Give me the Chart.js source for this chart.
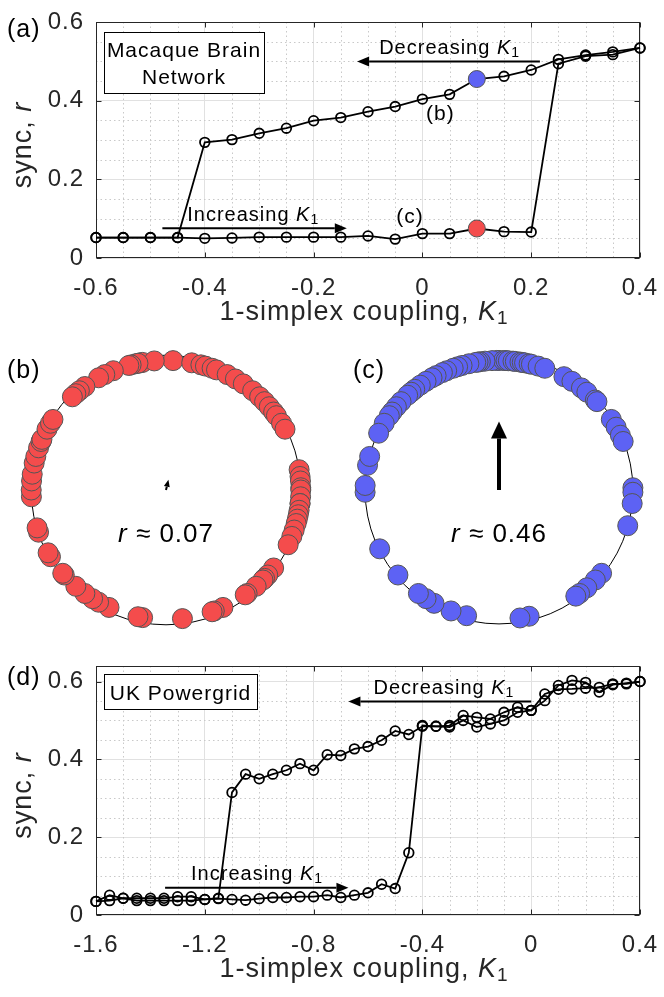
<!DOCTYPE html>
<html>
<head>
<meta charset="utf-8">
<title>Simplex coupling sweeps</title>
<script src="https://cdn.jsdelivr.net/npm/chart.js@4.4.1/dist/chart.umd.min.js"></script>
<style>
  html, body { margin: 0; padding: 0; background: #fff; }
  #fig { position: relative; width: 664px; height: 997px; overflow: hidden; background: #fff; }
  #fig canvas { position: absolute; }
</style>
</head>
<body>
<div id="fig">
  <canvas id="chartA" width="664" height="330" style="left:0;top:0"></canvas>
  <canvas id="chartB" width="332" height="320" style="left:0;top:330px"></canvas>
  <canvas id="chartC" width="332" height="320" style="left:332px;top:330px"></canvas>
  <canvas id="chartD" width="664" height="347" style="left:0;top:650px"></canvas>
</div>
<script>
// ==============================================================================
// DATA
// ==============================================================================

// (a) Macaque brain network, K1 swept forward (up) and backward (down)
const macaqueK = [-0.6, -0.55, -0.5, -0.45, -0.4, -0.35, -0.3, -0.25, -0.2, -0.15, -0.1,
                  -0.05, 0, 0.05, 0.1, 0.15, 0.2, 0.25, 0.3, 0.35, 0.4];
const macaqueUp = [0.052, 0.052, 0.052, 0.052, 0.050, 0.051, 0.053, 0.053, 0.053, 0.053, 0.056,
                   0.048, 0.062, 0.062, 0.075, 0.067, 0.066, 0.494, 0.513, 0.517, 0.534];
const macaqueDown = [0.052, 0.052, 0.052, 0.052, 0.294, 0.301, 0.317, 0.330, 0.349, 0.357, 0.372,
                     0.385, 0.404, 0.416, 0.455, 0.462, 0.478, 0.505, 0.516, 0.524, 0.534];
const macaqueTicksX = [-0.6, -0.4, -0.2, 0, 0.2, 0.4];
const macaqueTicksY = [0, 0.2, 0.4, 0.6];
const snapshotIndex = 14; // K1 = 0.1

// (d) UK power grid
const gridK = [-1.6, -1.55, -1.5, -1.45, -1.4, -1.35, -1.3, -1.25, -1.2, -1.15, -1.1,
               -1.05, -1.0, -0.95, -0.9, -0.85, -0.8, -0.75, -0.7, -0.65, -0.6,
               -0.55, -0.5, -0.45, -0.4, -0.35, -0.3, -0.25, -0.2, -0.15, -0.1,
               -0.05, 0, 0.05, 0.1, 0.15, 0.2, 0.25, 0.3, 0.35, 0.4];
const gridUp = [0.035, 0.037, 0.043, 0.037, 0.037, 0.037, 0.037, 0.037, 0.040, 0.042, 0.040,
                0.038, 0.042, 0.045, 0.045, 0.047, 0.047, 0.051, 0.045, 0.051, 0.057,
                0.079, 0.068, 0.160, 0.487, 0.485, 0.483, 0.500, 0.483, 0.491, 0.500,
                0.521, 0.526, 0.551, 0.590, 0.603, 0.598, 0.573, 0.592, 0.596, 0.600];
const gridDown = [0.035, 0.051, 0.043, 0.043, 0.043, 0.043, 0.047, 0.047, 0.040, 0.043, 0.315,
                  0.362, 0.350, 0.362, 0.372, 0.389, 0.372, 0.412, 0.410, 0.427, 0.433,
                  0.449, 0.473, 0.464, 0.485, 0.485, 0.487, 0.513, 0.508, 0.504, 0.521,
                  0.534, 0.526, 0.568, 0.580, 0.581, 0.583, 0.585, 0.594, 0.594, 0.600];
const gridTicksX = [-1.6, -1.2, -0.8, -0.4, 0, 0.4];
const gridTicksY = [0, 0.2, 0.4, 0.6];

// (b), (c) oscillator phases on the unit circle, degrees
const phasesB = [87, 79, 75, 73, 70, 68, 101, 100, 95, 103, 102, 105, 106, 113, 117, 120, 127, 130, 132, 134,
                 63, 59, 55, 50, 46, 43, 40, 37, 35, 31, 28,
                 9, 6, 4, 1, 0, -3, -6, -6, -9, -11, -13, -15, -18, -21, -25,
                 -37, -41, -43, -44, -48, -53, -54,
                 -65, -69, -70, -83, -100, -102,
                 -115, -120, -123, -127, -132, -139, -140, -149, -151,
                 -161, -163, -177, 180, 176, 173, 168, 165, 161, 158, 157, 152, 149, 147];
const phasesC = [90, 91, 93, 88, 87, 86, 84, 83, 81, 80, 79, 77, 76, 73, 70, 96, 98, 99, 100, 103,
                 106, 108, 110, 113, 115, 118, 120, 123, 126, 129, 131, 133, 137, 140, 143, 145, 149, 154,
                 61, 57, 52, 49, 44, 43, 33, 29, 25, 22,
                 1, -1, -6, -16,
                 -40, -44, -49, -53, -55,
                 -77, -81,
                 -104, -111, -119, -123, -127, -139, -153,
                 -179, 178, 169, 165];
const orderR = [0.07, 0.46];
const orderPsi = [77, 90];

// ==============================================================================
// STYLE + DRAW HELPERS
// ==============================================================================

const FONT = '"Liberation Sans", Arial, Helvetica, sans-serif';
const INK = '#262626';
const RED = '#f44c4c';
const BLUE = '#5d62f4';
const EDGE = '#555555';

const xTitle = [{ t: '1-simplex coupling, ' }, { t: 'K', i: 1 }, { t: '1', s: 1 }];
const yTitle = [{ t: 'sync, ' }, { t: 'r', i: 1 }];
const decLabel = [{ t: 'Decreasing ' }, { t: 'K', i: 1 }, { t: '1', s: 1 }];
const incLabel = [{ t: 'Increasing ' }, { t: 'K', i: 1 }, { t: '1', s: 1 }];

function richText(ctx, parts, x, y, size, align, angle, color) {
    ctx.save();
    ctx.translate(x, y);
    if (angle) ctx.rotate(angle);
    ctx.letterSpacing = '1px';
    ctx.fillStyle = color || '#000';
    ctx.textBaseline = 'alphabetic';
    ctx.textAlign = 'left';
    const fontOf = p => (p.i ? 'italic ' : '') + (p.s ? Math.round(size * 0.72) : size) + 'px ' + FONT;
    let total = 0;
    const widths = parts.map(p => {
        ctx.font = fontOf(p);
        const w = ctx.measureText(p.t).width;
        total += w;
        return w;
    });
    let cx = align === 'center' ? -total / 2 : (align === 'right' ? -total : 0);
    parts.forEach((p, i) => {
        ctx.font = fontOf(p);
        ctx.fillText(p.t, cx, p.s ? size * 0.16 : 0);
        cx += widths[i];
    });
    ctx.restore();
}

function arrow(ctx, x1, y1, x2, y2, width, headLen, headW) {
    const a = Math.atan2(y2 - y1, x2 - x1);
    const bx = x2 - headLen * Math.cos(a);
    const by = y2 - headLen * Math.sin(a);
    ctx.save();
    ctx.strokeStyle = '#000';
    ctx.fillStyle = '#000';
    ctx.lineWidth = width;
    ctx.beginPath();
    ctx.moveTo(x1, y1);
    ctx.lineTo(bx, by);
    ctx.stroke();
    ctx.beginPath();
    ctx.moveTo(x2, y2);
    ctx.lineTo(bx + headW / 2 * Math.sin(a), by - headW / 2 * Math.cos(a));
    ctx.lineTo(bx - headW / 2 * Math.sin(a), by + headW / 2 * Math.cos(a));
    ctx.closePath();
    ctx.fill();
    ctx.restore();
}

function labelBox(ctx, x1, y1, x2, y2, lines, baselines, size) {
    ctx.save();
    ctx.fillStyle = '#fff';
    ctx.fillRect(x1, y1, x2 - x1, y2 - y1);
    ctx.strokeStyle = '#000';
    ctx.lineWidth = 1;
    ctx.strokeRect(Math.round(x1) + 0.5, Math.round(y1) + 0.5, Math.round(x2 - x1), Math.round(y2 - y1));
    ctx.restore();
    lines.forEach((ln, i) => richText(ctx, [{ t: ln }], (x1 + x2) / 2, baselines[i], size, 'center'));
}

const fmtTick = v => Math.abs(v) < 1e-9 ? '0' : String(Math.round(v * 10) / 10);

// letter spacing for the library's own tick labels
const spacingPlugin = {
    id: 'spacing',
    beforeDraw(chart) { chart.ctx.letterSpacing = '1px'; }
};

// minor dotted grid, axes box, inward ticks on all four sides
function makeFrame(s) {
    return {
        id: 'frame',
        beforeDatasetsDraw(chart) {
            const { ctx, chartArea: a, scales: { x, y } } = chart;
            const isMajor = (v, list) => list.some(t => Math.abs(t - v) < 1e-6);
            ctx.save();
            ctx.strokeStyle = '#c9c9c9';
            ctx.lineWidth = 1;
            ctx.setLineDash([1.5, 3]);
            for (let i = Math.ceil(s.xMin / s.minorX - 1e-6); i * s.minorX <= s.xMax + 1e-6; i++) {
                const v = i * s.minorX;
                if (isMajor(v, s.ticksX)) continue;
                const px = Math.round(x.getPixelForValue(v)) + 0.5;
                ctx.beginPath(); ctx.moveTo(px, a.top); ctx.lineTo(px, a.bottom); ctx.stroke();
            }
            for (let i = Math.ceil(s.yMin / s.minorY - 1e-6); i * s.minorY <= s.yMax + 1e-6; i++) {
                const v = i * s.minorY;
                if (isMajor(v, s.ticksY)) continue;
                const py = Math.round(y.getPixelForValue(v)) + 0.5;
                ctx.beginPath(); ctx.moveTo(a.left, py); ctx.lineTo(a.right, py); ctx.stroke();
            }
            ctx.setLineDash([]);
            ctx.strokeStyle = INK;
            const L = Math.round(a.left) + 0.5, R = Math.round(a.right) - 0.5;
            const T = Math.round(a.top) + 0.5, B = Math.round(a.bottom) - 0.5;
            ctx.strokeRect(L, T, R - L, B - T);
            ctx.beginPath();
            s.ticksX.forEach(v => {
                const px = Math.round(x.getPixelForValue(v)) + 0.5;
                ctx.moveTo(px, B); ctx.lineTo(px, B - 5);
                ctx.moveTo(px, T); ctx.lineTo(px, T + 5);
            });
            s.ticksY.forEach(v => {
                const py = Math.round(y.getPixelForValue(v)) + 0.5;
                ctx.moveTo(L, py); ctx.lineTo(L + 5, py);
                ctx.moveTo(R, py); ctx.lineTo(R - 5, py);
            });
            ctx.stroke();
            ctx.restore();
        },
        afterDraw(chart) {
            const { ctx, chartArea: a } = chart;
            richText(ctx, xTitle, (a.left + a.right) / 2 - 4, a.bottom + 62, 27, 'center', 0, INK);
            richText(ctx, yTitle, 31, (a.top + a.bottom) / 2 + 5, 27, 'center', -Math.PI / 2, INK);
            richText(ctx, [{ t: s.panel }], 7, s.panelY, 25, 'left');
            s.notes(chart);
        }
    };
}

// ==============================================================================
// SWEEP CHARTS (a) AND (d)
// ==============================================================================

function branch(k, r) {
    return {
        data: k.map((v, i) => ({ x: v, y: r[i] })),
        showLine: true,
        borderColor: '#000',
        borderWidth: 1.8,
        pointRadius: 4.8,
        pointBorderWidth: 1.8,
        pointBorderColor: '#000',
        pointBackgroundColor: 'rgba(0,0,0,0)',
        clip: false
    };
}

function makeSweep(id, s) {
    const marks = (s.marks || []).map(m => ({
        data: [{ x: m.x, y: m.y }],
        pointRadius: 8.5,
        pointBackgroundColor: m.color,
        pointBorderColor: EDGE,
        pointBorderWidth: 1,
        showLine: false,
        clip: false
    }));
    return new Chart(document.getElementById(id), {
        type: 'scatter',
        data: { datasets: [...marks, branch(s.k, s.up), branch(s.k, s.down)] },
        options: {
            responsive: false,
            animation: false,
            events: [],
            layout: { padding: { left: 0, right: 24, top: s.padTop, bottom: 0 } },
            plugins: { legend: { display: false }, tooltip: { enabled: false } },
            scales: {
                x: {
                    type: 'linear', min: s.xMin, max: s.xMax,
                    afterBuildTicks: sc => { sc.ticks = s.ticksX.map(v => ({ value: v })); },
                    afterFit: sc => { sc.height = s.xAxisH; sc.paddingLeft = 0; sc.paddingRight = 0; },
                    ticks: { callback: fmtTick, color: INK, font: { family: FONT, size: 24 },
                             padding: 16, maxRotation: 0, autoSkip: false },
                    grid: { color: '#e1e1e1', lineWidth: 1, drawTicks: false },
                    border: { display: false }
                },
                y: {
                    type: 'linear', min: s.yMin, max: s.yMax,
                    afterBuildTicks: sc => { sc.ticks = s.ticksY.map(v => ({ value: v })); },
                    afterFit: sc => { sc.width = 96; sc.paddingTop = 0; sc.paddingBottom = 0; },
                    ticks: { callback: fmtTick, color: INK, font: { family: FONT, size: 24 }, padding: 12 },
                    grid: { color: '#e1e1e1', lineWidth: 1, drawTicks: false },
                    border: { display: false }
                }
            }
        },
        plugins: [spacingPlugin, makeFrame(s)]
    });
}

makeSweep('chartA', {
    k: macaqueK, up: macaqueUp, down: macaqueDown,
    xMin: -0.6, xMax: 0.4, yMin: 0, yMax: 0.6,
    ticksX: macaqueTicksX, ticksY: macaqueTicksY, minorX: 0.05, minorY: 0.05,
    padTop: 22, xAxisH: 72, panel: '(a)', panelY: 37,
    marks: [
        { x: macaqueK[snapshotIndex], y: macaqueUp[snapshotIndex], color: RED },
        { x: macaqueK[snapshotIndex], y: macaqueDown[snapshotIndex], color: BLUE }
    ],
    notes(chart) {
        const { ctx, chartArea: a, scales: { x, y } } = chart;
        labelBox(ctx, a.left + 8, a.top + 10, a.left + 168, a.top + 71,
                 ['Macaque Brain', 'Network'], [a.top + 35, a.top + 62], 21);
        arrow(ctx, x.getPixelForValue(0.216), y.getPixelForValue(0.4995),
              x.getPixelForValue(-0.12), y.getPixelForValue(0.4995), 2, 12, 10);
        richText(ctx, decLabel, x.getPixelForValue(0.05), y.getPixelForValue(0.519), 20, 'center');
        arrow(ctx, x.getPixelForValue(-0.478), y.getPixelForValue(0.0755),
              x.getPixelForValue(-0.139), y.getPixelForValue(0.0755), 2, 12, 10);
        richText(ctx, incLabel, x.getPixelForValue(-0.311), y.getPixelForValue(0.094), 20, 'center');
        richText(ctx, [{ t: '(b)' }], x.getPixelForValue(0.033), y.getPixelForValue(0.351), 21, 'center');
        richText(ctx, [{ t: '(c)' }], x.getPixelForValue(-0.023), y.getPixelForValue(0.09), 21, 'center');
    }
});

makeSweep('chartD', {
    k: gridK, up: gridUp, down: gridDown,
    xMin: -1.6, xMax: 0.4, yMin: 0, yMax: 0.64,
    ticksX: gridTicksX, ticksY: gridTicksY, minorX: 0.1, minorY: 0.05,
    padTop: 16, xAxisH: 82, panel: '(d)', panelY: 35,
    notes(chart) {
        const { ctx, chartArea: a, scales: { x, y } } = chart;
        labelBox(ctx, a.left + 8, a.top + 8, a.left + 161, a.top + 43, ['UK Powergrid'], [a.top + 34], 21);
        arrow(ctx, x.getPixelForValue(0), y.getPixelForValue(0.549),
              x.getPixelForValue(-0.672), y.getPixelForValue(0.549), 2, 12, 10);
        richText(ctx, decLabel, x.getPixelForValue(-0.321), y.getPixelForValue(0.569), 20, 'center');
        arrow(ctx, x.getPixelForValue(-1.346), y.getPixelForValue(0.07),
              x.getPixelForValue(-0.672), y.getPixelForValue(0.07), 2, 12, 10);
        richText(ctx, incLabel, x.getPixelForValue(-1.008), y.getPixelForValue(0.09), 20, 'center');
    }
});

// ==============================================================================
// PHASE CIRCLES (b) AND (c)
// ==============================================================================

function makeCircle(id, c) {
    const rad = d => d * Math.PI / 180;
    return new Chart(document.getElementById(id), {
        type: 'scatter',
        data: {
            datasets: [{
                data: c.phases.map(p => ({ x: Math.cos(rad(p)), y: Math.sin(rad(p)) })),
                pointRadius: 10,
                pointBackgroundColor: c.color,
                pointBorderColor: EDGE,
                pointBorderWidth: 1,
                clip: false
            }]
        },
        options: {
            responsive: false,
            animation: false,
            events: [],
            layout: { padding: c.pad },
            plugins: { legend: { display: false }, tooltip: { enabled: false } },
            scales: {
                x: { type: 'linear', min: -1.15, max: 1.15, display: false },
                y: { type: 'linear', min: -1.15, max: 1.15, display: false }
            }
        },
        plugins: [{
            id: 'ring',
            beforeDatasetsDraw(chart) {
                const { ctx, scales: { x, y } } = chart;
                const cx = x.getPixelForValue(0), cy = y.getPixelForValue(0);
                ctx.save();
                ctx.strokeStyle = '#000';
                ctx.lineWidth = 1;
                ctx.beginPath();
                ctx.arc(cx, cy, x.getPixelForValue(1) - cx, 0, 2 * Math.PI);
                ctx.stroke();
                ctx.restore();
                const r = orderR[c.idx] * 1.15, psi = rad(orderPsi[c.idx]);
                arrow(ctx, cx, cy, x.getPixelForValue(r * Math.cos(psi)), y.getPixelForValue(r * Math.sin(psi)),
                      c.arrow[0], c.arrow[1], c.arrow[2]);
            },
            afterDraw(chart) {
                const { ctx, scales: { x, y } } = chart;
                richText(ctx, [{ t: 'r', i: 1 }, { t: ' \u2248 ' + orderR[c.idx].toFixed(2) }],
                         x.getPixelForValue(0), y.getPixelForValue(-0.40), 26, 'center');
                richText(ctx, [{ t: c.panel }], c.panelX, 48, 25, 'left');
            }
        }]
    });
}

makeCircle('chartB', {
    phases: phasesB, color: RED, idx: 0, panel: '(b)', panelX: 7,
    pad: { left: 5, right: 11, top: 2, bottom: 2 }, arrow: [2, 7, 6]
});
makeCircle('chartC', {
    phases: phasesC, color: BLUE, idx: 1, panel: '(c)', panelX: 21,
    pad: { left: 13, right: 3, top: 2, bottom: 2 }, arrow: [4, 17, 16]
});
</script>
</body>
</html>
